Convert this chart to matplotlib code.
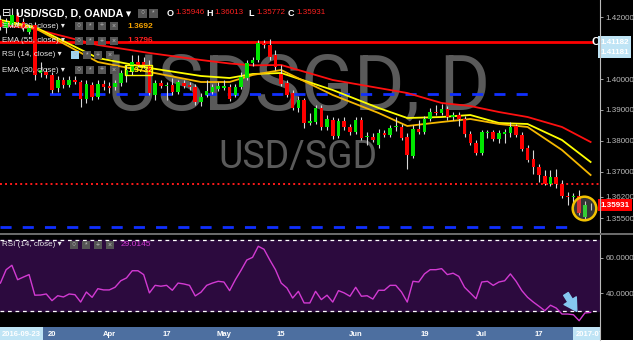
import matplotlib
matplotlib.use("Agg")
import matplotlib.pyplot as plt
from matplotlib.patches import Rectangle
import numpy as np

# ========================
# DATA
# ========================
opens = [1.41903, 1.41645, 1.41742, 1.42065, 1.41839, 1.41516, 1.41742, 1.40194, 1.40226, 1.40129,
         1.39710, 1.39968, 1.39806, 1.39968, 1.39903, 1.39355, 1.39806, 1.39419, 1.39839, 1.39774,
         1.39742, 1.39871, 1.40129, 1.40226, 1.40548, 1.40548, 1.40452, 1.39484, 1.39871, 1.39774,
         1.39806, 1.39581, 1.39871, 1.39806, 1.39742, 1.39258, 1.39484, 1.39581, 1.39677, 1.39710,
         1.39742, 1.39484, 1.39742, 1.40032, 1.40516, 1.40613, 1.41161, 1.41097, 1.40774, 1.40161,
         1.39871, 1.39548, 1.39065, 1.39323, 1.38581, 1.38613, 1.39065, 1.38452, 1.38677, 1.38161,
         1.38645, 1.38452, 1.38290, 1.38677, 1.38129, 1.38129, 1.37871, 1.38258, 1.38194, 1.38452,
         1.38452, 1.38129, 1.37516, 1.38387, 1.38290, 1.38710, 1.38935, 1.38903, 1.39032, 1.38774,
         1.38839, 1.38710, 1.38226, 1.37935, 1.37613, 1.38258, 1.38290, 1.38065, 1.38226, 1.38258,
         1.38484, 1.38194, 1.37774, 1.37419, 1.37161, 1.36871, 1.36613, 1.36839, 1.36613, 1.36226,
         1.36194, 1.36226, 1.35548, 1.35946]
highs = [1.42065, 1.41968, 1.42290, 1.42161, 1.41968, 1.41742, 1.41839, 1.40548, 1.40355, 1.40226,
         1.40097, 1.40065, 1.40097, 1.40097, 1.39968, 1.39968, 1.39903, 1.39968, 1.39968, 1.39903,
         1.39968, 1.40290, 1.40452, 1.40774, 1.40774, 1.40710, 1.40613, 1.39968, 1.39968, 1.39903,
         1.40032, 1.39968, 1.39968, 1.39903, 1.39839, 1.39548, 1.39968, 1.39839, 1.39903, 1.39968,
         1.39839, 1.39839, 1.40226, 1.40613, 1.40710, 1.41258, 1.41258, 1.41290, 1.40935, 1.40452,
         1.39968, 1.39645, 1.39452, 1.39387, 1.38903, 1.39161, 1.39161, 1.38839, 1.38774, 1.38742,
         1.38774, 1.38548, 1.38774, 1.38774, 1.38290, 1.38258, 1.38387, 1.38355, 1.38516, 1.38774,
         1.38548, 1.38258, 1.38516, 1.38677, 1.38806, 1.39065, 1.39161, 1.39194, 1.39129, 1.38935,
         1.38935, 1.38806, 1.38323, 1.38032, 1.38355, 1.38355, 1.38355, 1.38355, 1.38387, 1.38613,
         1.38548, 1.38290, 1.37871, 1.37710, 1.37258, 1.37065, 1.37065, 1.37097, 1.36742, 1.36355,
         1.36323, 1.36419, 1.36065, 1.36013]
lows = [1.41581, 1.41484, 1.41677, 1.41742, 1.41548, 1.41452, 1.39968, 1.40065, 1.40032, 1.39548,
        1.39581, 1.39710, 1.39742, 1.39839, 1.39097, 1.39226, 1.39323, 1.39355, 1.39645, 1.39548,
        1.39645, 1.39774, 1.39903, 1.40129, 1.40387, 1.40355, 1.39484, 1.39323, 1.39710, 1.39323,
        1.39484, 1.39516, 1.39710, 1.39645, 1.39161, 1.39129, 1.39419, 1.39516, 1.39613, 1.39645,
        1.39290, 1.39419, 1.39677, 1.39968, 1.40419, 1.40548, 1.41000, 1.40613, 1.40290, 1.39774,
        1.39419, 1.39000, 1.38935, 1.38419, 1.38516, 1.38548, 1.38355, 1.38355, 1.38065, 1.38097,
        1.38355, 1.38194, 1.38226, 1.38032, 1.37871, 1.37968, 1.37774, 1.38129, 1.38129, 1.38323,
        1.38032, 1.37097, 1.37452, 1.38226, 1.38226, 1.38645, 1.38839, 1.38839, 1.38677, 1.38677,
        1.38484, 1.38129, 1.37871, 1.37548, 1.37548, 1.38097, 1.38000, 1.37935, 1.37935, 1.38129,
        1.38129, 1.37677, 1.37323, 1.36935, 1.36677, 1.36581, 1.36548, 1.36484, 1.36161, 1.35935,
        1.35903, 1.35613, 1.35452, 1.35772]
closes = [1.41677, 1.41839, 1.42065, 1.41839, 1.41645, 1.41645, 1.40129, 1.40290, 1.40129, 1.39645,
          1.39968, 1.39806, 1.39968, 1.39903, 1.39355, 1.39839, 1.39419, 1.39839, 1.39742, 1.39710,
          1.39871, 1.40194, 1.40290, 1.40548, 1.40452, 1.40452, 1.39548, 1.39871, 1.39774, 1.39806,
          1.39581, 1.39903, 1.39774, 1.39742, 1.39258, 1.39419, 1.39613, 1.39742, 1.39774, 1.39774,
          1.39355, 1.39742, 1.40065, 1.40516, 1.40613, 1.41161, 1.41097, 1.40710, 1.40387, 1.39839,
          1.39484, 1.39065, 1.39323, 1.38581, 1.38645, 1.39065, 1.38452, 1.38710, 1.38161, 1.38645,
          1.38452, 1.38290, 1.38677, 1.38097, 1.38161, 1.38032, 1.38258, 1.38194, 1.38419, 1.38484,
          1.38097, 1.37548, 1.38387, 1.38290, 1.38710, 1.38935, 1.38903, 1.39032, 1.38774, 1.38839,
          1.38710, 1.38226, 1.37935, 1.37613, 1.38290, 1.38290, 1.38065, 1.38258, 1.38290, 1.38452,
          1.38194, 1.37742, 1.37387, 1.37161, 1.36903, 1.36613, 1.36839, 1.36613, 1.36226, 1.36194,
          1.36226, 1.35677, 1.35935, 1.35931]

rsi = [45.7, 53.3, 55.8, 47.6, 49.1, 50.5, 38.8, 38.9, 39.5, 35.7,
       38.5, 37.8, 39.5, 39.1, 34.9, 40.6, 37.6, 42.5, 41.8, 41.8,
       43.3, 47.0, 48.6, 52.7, 52.7, 50.5, 40.1, 44.4, 43.9, 44.4,
       41.6, 45.7, 45.2, 44.4, 38.4, 40.5, 44.4, 45.7, 46.7, 46.3,
       41.4, 47.6, 53.0, 58.8, 60.3, 66.6, 64.9, 58.9, 53.3, 45.7,
       42.9, 37.2, 41.0, 34.4, 34.4, 41.0, 36.3, 38.8, 34.9, 41.4,
       40.1, 38.2, 43.3, 38.2, 38.5, 36.6, 41.6, 41.6, 44.4, 44.4,
       40.6, 34.9, 46.7, 46.3, 50.9, 53.3, 53.3, 53.9, 50.5, 51.3,
       49.5, 43.3, 40.1, 36.8, 46.3, 46.7, 44.4, 46.3, 47.0, 50.9,
       46.7, 41.4, 37.6, 34.9, 32.5, 30.0, 33.1, 31.5, 28.1, 28.1,
       27.7, 24.3, 28.7, 29.0145]

# moving averages, read at a handful of candles
ema_idx = [0, 6, 17, 26, 35, 40, 44, 49, 58, 66, 71, 77, 82, 87, 92, 98, 103]
ema55 = [1.41742, 1.41613, 1.41097, 1.40839, 1.40613, 1.40500, 1.40440, 1.40452, 1.39968, 1.39710,
         1.39548, 1.39226, 1.39129, 1.38935, 1.38774, 1.38452, 1.37968]
ema20 = [1.41839, 1.41645, 1.40548, 1.40226, 1.39903, 1.39903, 1.40129, 1.40290, 1.39484, 1.38903,
         1.38484, 1.38613, 1.38710, 1.38548, 1.38452, 1.37710, 1.36903]
ema30 = [1.41903, 1.41677, 1.40677, 1.40355, 1.40097, 1.40032, 1.40161, 1.40194, 1.39645, 1.39065,
         1.38742, 1.38774, 1.38839, 1.38581, 1.38548, 1.38032, 1.37323]

date_ticks = [9, 19, 29, 39, 49, 62, 74, 84, 94]
date_labels = ["20", "Apr", "17", "May", "15", "Jun", "19", "Jul", "17"]

price_ticks = [1.42, 1.40, 1.39, 1.38, 1.37, 1.362, 1.355]
rsi_ticks = [40, 60]

resistance = 1.41182
support_dotted = 1.36603
blue_levels = [(1.39516, 0.8, 92.8), (1.35226, 0.0, 98.9)]

# ========================
# LAYOUT HELPERS (pixels -> figure fraction)
# ========================
W, H = 640, 343
N = len(closes)
XLIM = (-0.075, 104.64)

def fx(x):
    return x / W

def fy(y):
    return 1 - y / H

FONT = "Liberation Sans"
plt.rcParams["font.family"] = [FONT, "DejaVu Sans"]

fig = plt.figure(figsize=(6.4, 3.43), dpi=100, facecolor="white")
fig.patches.append(Rectangle((0, fy(340)), fx(633), 340 / H, transform=fig.transFigure,
                             facecolor="black", edgecolor="none", zorder=-5))

# ========================
# PRICE PANEL
# ========================
ax = fig.add_axes([0, fy(232), 600 / W, 232 / H], facecolor="black")
ax.set_xlim(*XLIM)
ax.set_ylim(1.350645, 1.425484)
for s in ax.spines.values():
    s.set_visible(False)
ax.set_xticks([])
ax.yaxis.tick_right()
ax.set_yticks(price_ticks)
ax.set_yticklabels([f"{t:.5f}" for t in price_ticks])
ax.tick_params(axis="y", colors="#bbbbbb", labelsize=5.8, length=2, pad=2, width=0.6)

# watermark
ax.text(fx(299), fy(88), "USDSGD, D", transform=fig.transFigure, ha="center", va="center",
        fontsize=56, color="#5a5a5a", zorder=0.5, family="Roboto")
ax.text(fx(298), fy(157), "USD/SGD", transform=fig.transFigure, ha="center", va="center",
        fontsize=27, color="#5a5a5a", zorder=0.5, family="Roboto")

# horizontal levels
ax.axhline(resistance, xmin=0, xmax=592 / 600, color="#ff0000", lw=2, zorder=2)
ax.text(595 / 600, resistance, "C", transform=ax.get_yaxis_transform(), ha="center", va="center",
        color="white", fontsize=8, fontweight="bold", zorder=5)
ax.axhline(support_dotted, color="#ff1a1a", lw=1.4, linestyle=(0, (1, 1.6)), zorder=2)
for lvl, x0, x1 in blue_levels:
    ax.hlines(lvl, x0, x1, color="#1030ff", lw=2, linestyles=(0, (4, 4)), zorder=2)

# moving averages
ax.plot(ema_idx, ema55, color="#ff1010", lw=1.3, zorder=3)
ax.plot(ema_idx, ema30, color="#ffff00", lw=1.3, zorder=3)
ax.plot(ema_idx, ema20, color="#f5b800", lw=1.3, zorder=3)

# candles
idx = np.arange(N)
o = np.array(opens)
c = np.array(closes)
up = c >= o
ax.vlines(idx, lows, highs, color="#d8d8d8", lw=0.8, zorder=4)
body_lo = np.minimum(o, c)
body_h = np.maximum(np.abs(c - o), 0.00012)
ax.bar(idx, body_h, bottom=body_lo, width=0.62,
       color=np.where(up, "#00e600", "#ff0000"), edgecolor="none", zorder=5)

# highlight circle on the last candles
ax.plot([101.9], [1.35829], marker="o", markersize=17, markerfacecolor=(0.6, 0.6, 0.6, 0.35),
        markeredgecolor="#f2c200", markeredgewidth=1.8, zorder=6)

# price labels on the axis
lbl_tr = ax.get_yaxis_transform()
ax.text(1.0, resistance, "1.41182", transform=lbl_tr, ha="left", va="center", fontsize=5.8,
        color="white", fontweight="bold", clip_on=False, zorder=7,
        bbox=dict(boxstyle="square,pad=0.3", facecolor="#bfe4f5", edgecolor="none"))
ax.text(1.0, 1.40858, "1.41181", transform=lbl_tr, ha="left", va="center", fontsize=5.8,
        color="white", fontweight="bold", clip_on=False, zorder=7,
        bbox=dict(boxstyle="square,pad=0.3", facecolor="#bfe4f5", edgecolor="none"))
ax.text(1.0, closes[-1], "1.35931", transform=lbl_tr, ha="left", va="center", fontsize=5.8,
        color="white", fontweight="bold", clip_on=False, zorder=7,
        bbox=dict(boxstyle="square,pad=0.3", facecolor="#ff0000", edgecolor="none"))

# ========================
# RSI PANEL
# ========================
ax2 = fig.add_axes([0, fy(326), 600 / W, 90 / H], facecolor="black")
ax2.set_xlim(*XLIM)
ax2.set_ylim(21.3, 72.44)
for s in ax2.spines.values():
    s.set_visible(False)
ax2.set_xticks([])
ax2.axhspan(30, 70, color="#2c0a3e", zorder=0)
ax2.axhline(70, color="white", lw=0.9, linestyle=(0, (3, 3)), zorder=1)
ax2.axhline(30, color="white", lw=0.9, linestyle=(0, (3, 3)), zorder=1)
ax2.plot(idx, rsi, color="#d23ad2", lw=1.0, zorder=3)
ax2.yaxis.tick_right()
ax2.set_yticks(rsi_ticks)
ax2.set_yticklabels([f"{t:.4f}" for t in rsi_ticks])
ax2.tick_params(axis="y", colors="#bbbbbb", labelsize=5.8, length=2, pad=2, width=0.6)
ax2.annotate("", xy=(100.6, 29.6), xytext=(98.7, 39.5),
             arrowprops=dict(arrowstyle="simple,head_width=0.8,head_length=0.7,tail_width=0.3",
                             color="#86c8f0", mutation_scale=13, shrinkA=0, shrinkB=0), zorder=6)

# separator and axis line
fig.patches.append(Rectangle((0, fy(235)), fx(633), 2.5 / H, transform=fig.transFigure,
                             facecolor="#6a6a6a", edgecolor="none", zorder=3))
fig.lines.append(plt.Line2D([fx(599.5), fx(599.5)], [fy(0), fy(340)], transform=fig.transFigure,
                            color="#bbbbbb", lw=0.8, zorder=3))

# ========================
# DATE STRIP
# ========================
ax3 = fig.add_axes([0, fy(340), 600 / W, 13 / H], facecolor="#4d6fa0")
ax3.set_xlim(*XLIM)
ax3.set_ylim(0, 1)
ax3.axis("off")
ax3.add_patch(Rectangle((0, 0), 1, 1, transform=ax3.transAxes, facecolor="#4d6fa0", zorder=0))
for t, lab in zip(date_ticks, date_labels):
    ax3.text(t, 0.45, lab, ha="center", va="center", fontsize=5.5, fontweight="bold", color="white")
ax3.add_patch(Rectangle((0, 0), 42.7 / 600, 1, transform=ax3.transAxes, facecolor="#bfe4f5", zorder=1))
ax3.text(1.5 / 600, 0.45, "2016-09-23", transform=ax3.transAxes, ha="left", va="center",
         fontsize=5.5, fontweight="bold", color="white", zorder=2)
ax3.add_patch(Rectangle((573 / 600, 0), 27 / 600, 1, transform=ax3.transAxes, facecolor="#bfe4f5", zorder=1))
ax3.text(576 / 600, 0.45, "2017-07-28", transform=ax3.transAxes, ha="left", va="center",
         fontsize=5.5, fontweight="bold", color="white", zorder=2, clip_on=True)

# ========================
# LEGEND TEXTS
# ========================
def icons(xs, y, size=8, first="#555555"):
    glyphs = ["○", "*", "+", "×"]
    for k, x in enumerate(xs):
        col = first if k == 0 else "#555555"
        fig.patches.append(Rectangle((fx(x), fy(y + size / 2)), size / W, size / H,
                                     transform=fig.transFigure, facecolor=col, edgecolor="none", zorder=8))
        fig.text(fx(x + size / 2), fy(y), glyphs[k % 4], ha="center", va="center", fontsize=5,
                 color="#bbbbbb", zorder=9)

fig.text(fx(2), fy(13), "⊟", ha="left", va="center", fontsize=8, color="white", zorder=9,
         family="DejaVu Sans")
fig.text(fx(16), fy(13), "USD/SGD, D, OANDA ▾", ha="left", va="center", fontsize=7.7,
         fontweight="bold", color="white", zorder=9)
icons([138, 149], 13, size=9)
ohlc = [("O", 167, "1.35946"), ("H", 206, "1.36013"), ("L", 248, "1.35772"), ("C", 288, "1.35931")]
for k, xk, v in ohlc:
    fig.text(fx(xk), fy(13), k, ha="left", va="center", fontsize=6.5, fontweight="bold",
             color="white", zorder=9)
    fig.text(fx(xk + 8), fy(13), v, ha="left", va="center", fontsize=5.8, color="#ff2020", zorder=9)

rows = [("EMA (20, close)", 26, "1.3692", "#f5a300"),
        ("EMA (55, close)", 41, "1.3796", "#ff2020"),
        ("RSI (14, close)", 55, None, None),
        ("EMA (30, close)", 70, "1.3732", "#ffff00")]
for name, y, val, col in rows:
    fig.text(fx(2), fy(y), name + " ▾", ha="left", va="center", fontsize=5.8, color="#e8e8e8", zorder=9)
    if name.startswith("RSI"):
        icons([71, 83, 94, 106], y, size=8, first="#9fd3f0")
    else:
        icons([75, 86, 98, 110], y, size=8)
    if val:
        fig.text(fx(127), fy(y), val, ha="left", va="center", fontsize=6, fontweight="bold",
                 color=col, zorder=9)
fig.patches.append(Rectangle((fx(125), fy(75)), 27 / W, 10 / H, transform=fig.transFigure,
                             facecolor="none", edgecolor="#ffff00", lw=1, zorder=9))

fig.text(fx(2), fy(245), "RSI (14, close) ▾", ha="left", va="center", fontsize=5.8,
         color="#e8e8e8", zorder=9)
icons([70, 82, 94, 106], 245, size=8, first="#555555")
fig.text(fx(121), fy(245), "29.0145", ha="left", va="center", fontsize=6, color="#d23ad2", zorder=9)

fig.savefig("out.png", dpi=100, facecolor="white")
